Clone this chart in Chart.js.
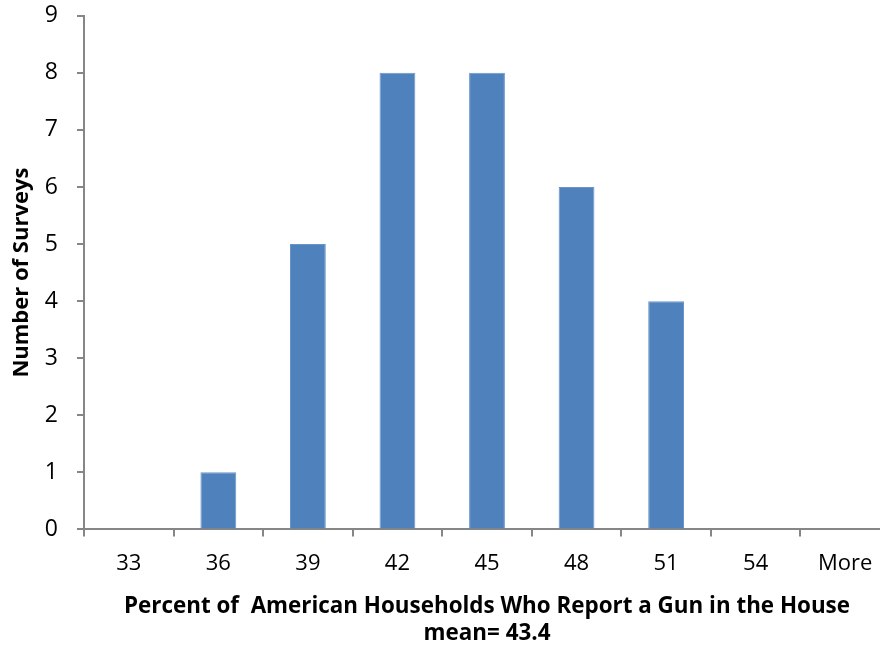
<!DOCTYPE html>
<html>
<head>
<meta charset="utf-8">
<script src="https://cdn.jsdelivr.net/npm/chart.js@4"></script>
<style>
  html, body { margin: 0; padding: 0; background: #fff; overflow: hidden; }
  #wrap { position: absolute; left: 0; top: -17px; width: 890px; height: 667px; }
</style>
</head>
<body>
<div id="wrap"><canvas id="histChart"></canvas></div>
<script>
// Histogram bins (upper edge of each bin) and survey counts
const bins = ['33', '36', '39', '42', '45', '48', '51', '54', 'More'];
const counts = [0, 1, 5, 8, 8, 6, 4, 0, 0];
const yTicks = [0, 1, 2, 3, 4, 5, 6, 7, 8, 9];

const xTitle = ['Percent of  American Households Who Report a Gun in the House', 'mean= 43.4'];
const yTitle = 'Number of Surveys';

const axisGray = '#868686';
const fontFamily = '"Open Sans", "Liberation Sans", sans-serif';
const leftPad = 9;

new Chart(document.getElementById('histChart').getContext('2d'), {
    type: 'bar',
    data: {
        labels: bins,
        datasets: [{
            label: 'Frequency',
            data: counts,
            backgroundColor: '#4F81BD',
            borderColor: '#6A95C9',
            borderWidth: 1,
            barPercentage: 0.4,
            categoryPercentage: 1.0
        }]
    },
    options: {
        responsive: true,
        maintainAspectRatio: false,
        animation: false,
        layout: { padding: { top: 0, right: 0, left: leftPad, bottom: 3 } },
        plugins: {
            legend: { display: false },
            tooltip: { enabled: false }
        },
        scales: {
            x: {
                grid: {
                    offset: true,
                    drawOnChartArea: false,
                    drawTicks: true,
                    tickLength: 7,
                    tickColor: axisGray,
                    lineWidth: 2
                },
                border: { color: axisGray, width: 2 },
                ticks: {
                    color: '#000',
                    padding: 14,
                    font: { family: fontFamily, size: 22 }
                },
                title: {
                    display: true,
                    text: xTitle,
                    color: '#000',
                    padding: { top: 2, bottom: 0 },
                    font: { family: fontFamily, size: 22.4, weight: 'bold', lineHeight: 1.21 }
                }
            },
            y: {
                min: 0,
                max: 9,
                afterBuildTicks: (axis) => { axis.ticks = yTicks.map(v => ({ value: v })); },
                // keep the axis line at a fixed x
                afterFit: (axis) => { axis.width = 84 - leftPad; },
                grid: {
                    drawOnChartArea: false,
                    drawTicks: true,
                    tickLength: 7,
                    tickColor: axisGray,
                    lineWidth: 2
                },
                border: { color: axisGray, width: 2 },
                ticks: {
                    color: '#000',
                    padding: 19,
                    font: { family: fontFamily, size: 23 }
                },
                title: {
                    display: true,
                    text: yTitle,
                    color: '#000',
                    padding: { top: 0, bottom: 0 },
                    font: { family: fontFamily, size: 22, weight: 'bold' }
                }
            }
        }
    }
});
</script>
</body>
</html>
